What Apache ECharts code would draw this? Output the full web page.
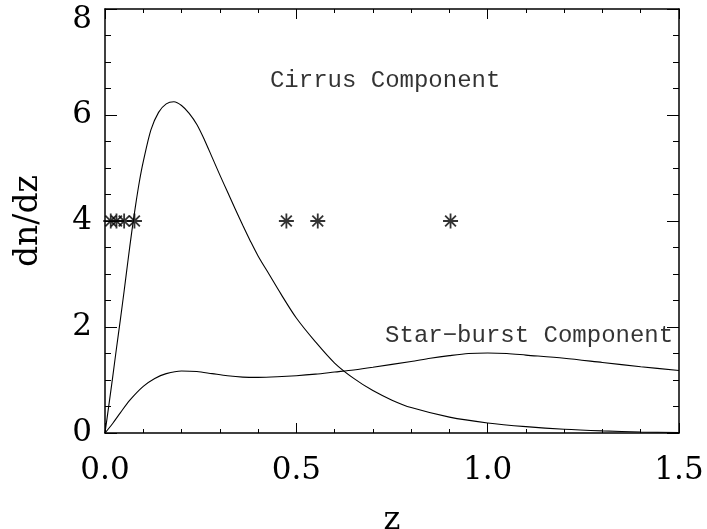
<!DOCTYPE html>
<html>
<head>
<meta charset="utf-8">
<script src="https://cdn.jsdelivr.net/npm/echarts@6/dist/echarts.min.js"></script>
<style>html,body{margin:0;padding:0;background:#fff}#c{width:707px;height:529px}</style>
</head>
<body>
<div id="c"></div>
<script>
// ---- data ----
var cirrusZ = [0,0.01,0.02,0.03,0.04,0.05,0.06,0.07,0.08,0.09,0.10,0.12,0.14,0.16,0.18,0.20,0.22,0.24,0.26,0.28,0.30,0.32,0.34,0.36,0.38,0.40,0.43,0.46,0.50,0.55,0.60,0.65,0.70,0.75,0.80,0.90,1.00,1.10,1.20,1.30,1.40,1.50];
var cirrusV = [0,0.52,1.05,1.6,2.13,2.68,3.25,3.8,4.3,4.75,5.12,5.72,6.05,6.21,6.25,6.18,6.03,5.82,5.53,5.2,4.87,4.55,4.23,3.92,3.62,3.34,2.98,2.62,2.17,1.72,1.32,1.03,0.8,0.62,0.48,0.3,0.19,0.12,0.07,0.04,0.02,0.01];
var starZ = [0,0.02,0.04,0.065,0.10,0.13,0.16,0.20,0.24,0.28,0.32,0.36,0.40,0.45,0.50,0.55,0.60,0.65,0.70,0.80,0.85,0.90,0.95,1.00,1.05,1.10,1.20,1.30,1.40,1.50];
var starV = [0,0.18,0.38,0.62,0.88,1.03,1.12,1.17,1.16,1.12,1.08,1.055,1.05,1.06,1.08,1.11,1.15,1.19,1.24,1.35,1.41,1.46,1.5,1.51,1.5,1.47,1.41,1.33,1.25,1.18];
var obsZ = [0.015,0.03,0.05,0.077,0.474,0.556,0.903];
var obsV = [4,4,4,4,4,4,4];
var xTicks = [0.0,0.5,1.0,1.5];
var yTicks = [0,2,4,6,8];
var annTexts = ["Cirrus Component","Star\u2212burst Component"];
var annZ = [0.431,0.732];
var annV = [6.64,1.83];

function pairs(a,b){return a.map(function(v,i){return [v,b[i]];});}

var serif = "DejaVu Serif";
var ink = "#000";
var asterisk = 'path://M-1 0L1 0M0 -1L0 1M-0.72 -0.72L0.72 0.72M-0.72 0.72L0.72 -0.72';

function xAx(pos, labels){
  return {
    type:'value', position:pos, min:0, max:1.5, interval:0.5,
    axisLine:{show:true,onZero:false,lineStyle:{color:ink,width:1.5}},
    axisTick:{show:true,inside:true,length:10,lineStyle:{color:ink,width:1}},
    minorTick:{show:true,splitNumber:5,length:4,lineStyle:{color:ink,width:1}},
    splitLine:{show:false},
    axisLabel:{show:labels,margin:22,color:ink,fontFamily:serif,fontSize:31,
      formatter:function(v){return v.toFixed(1);}},
    name: labels ? 'z' : '', nameLocation:'middle', nameGap:72,
    nameTextStyle:{color:ink,fontFamily:serif,fontSize:32}
  };
}
function yAx(pos, labels){
  var maxV = yTicks[yTicks.length-1];
  return {
    type:'value', position:pos, min:yTicks[0], max:maxV, interval:2,
    axisLine:{show:true,onZero:false,lineStyle:{color:ink,width:1.5}},
    axisTick:{show:true,inside:true,length:12,lineStyle:{color:ink,width:1}},
    minorTick:{show:true,splitNumber:4,length:6,lineStyle:{color:ink,width:1}},
    splitLine:{show:false},
    axisLabel:{show:labels,margin:13,color:ink,fontFamily:serif,fontSize:31,
      formatter:function(v){return v===maxV ? '{t|'+v+'}' : String(v);},
      rich:{t:{fontFamily:serif,fontSize:31,color:ink,padding:[22,0,0,0]}}},
    name: labels ? 'dn/dz' : '', nameLocation:'middle', nameGap:60, nameRotate:90,
    nameTextStyle:{color:ink,fontFamily:serif,fontSize:33}
  };
}

var chart = echarts.init(document.getElementById('c'));
chart.setOption({
  animation:false,
  backgroundColor:'#fff',
  grid:{left:105,right:28,top:9,bottom:96,containLabel:false,outerBoundsMode:'none'},
  xAxis:[xAx('bottom',true), xAx('top',false)],
  yAxis:[yAx('left',true), yAx('right',false)],
  series:[
    {type:'line',name:'Cirrus',data:pairs(cirrusZ,cirrusV),showSymbol:false,smooth:0.3,
     lineStyle:{color:ink,width:1.1},clip:true},
    {type:'line',name:'Starburst',data:pairs(starZ,starV),showSymbol:false,smooth:0.3,
     lineStyle:{color:ink,width:1.1},clip:true},
    {type:'scatter',name:'obs',data:pairs(obsZ,obsV),symbol:asterisk,symbolSize:15,
     itemStyle:{color:'none',borderColor:ink,borderWidth:1.8}},
    {type:'scatter',name:'ann',symbolSize:0,silent:true,
     data:annTexts.map(function(t,i){return {value:[annZ[i],annV[i]],name:t};}),
     label:{show:true,position:'inside',align:'left',verticalAlign:'middle',
       formatter:function(p){return p.name;},
       color:ink,fontFamily:'Liberation Mono',fontSize:24}}
  ]
});
</script>
</body>
</html>
